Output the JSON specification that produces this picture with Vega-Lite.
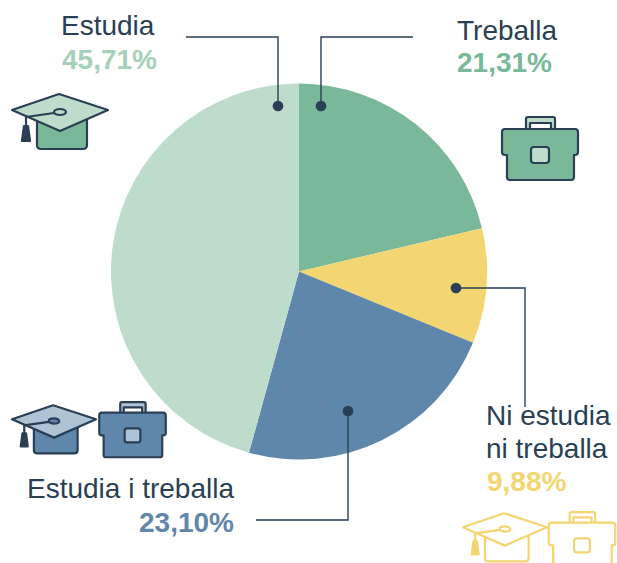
{"$schema":"https://vega.github.io/schema/vega-lite/v6.json","width":617,"height":563,"padding":0,"autosize":{"type":"none"},"background":"#ffffff","view":{"stroke":null},"config":{"legend":{"disable":true},"axis":{"domain":false,"ticks":false,"labels":false,"grid":false,"title":null}},
"datasets":{
"pie":[{"cat":"Treballa","pct":21.31,"ordre":1,"to":"verd"},{"cat":"Ni estudia ni treballa","pct":9.88,"ordre":2,"to":"groc"},{"cat":"Estudia i treballa","pct":23.10,"ordre":3,"to":"blau"},{"cat":"Estudia","pct":45.71,"ordre":4,"to":"verd clar"}],
"linies":[
{"l":"Estudia","o":1,"x":186,"y":37},{"l":"Estudia","o":2,"x":278,"y":37},{"l":"Estudia","o":3,"x":278,"y":106},
{"l":"Treballa","o":1,"x":413,"y":37},{"l":"Treballa","o":2,"x":321,"y":37},{"l":"Treballa","o":3,"x":321,"y":106},
{"l":"Ni","o":1,"x":456,"y":288},{"l":"Ni","o":2,"x":525,"y":288},{"l":"Ni","o":3,"x":525,"y":407},
{"l":"EiT","o":1,"x":348,"y":411},{"l":"EiT","o":2,"x":348,"y":520},{"l":"EiT","o":3,"x":256,"y":520}],
"punts":[{"x":278,"y":106},{"x":321,"y":106},{"x":456,"y":288},{"x":348,"y":411}],
"textos":[
{"t":"Estudia","x":61,"y":35,"to":"fosc","b":"n"},{"t":"45,71%","x":62,"y":69,"to":"verd text","b":"b"},
{"t":"Treballa","x":457,"y":40,"to":"fosc","b":"n"},{"t":"21,31%","x":457,"y":72,"to":"verd","b":"b"},
{"t":"Ni estudia","x":486,"y":425,"to":"fosc","b":"n"},{"t":"ni treballa","x":486,"y":458,"to":"fosc","b":"n"},{"t":"9,88%","x":487,"y":491,"to":"groc","b":"b"},
{"t":"Estudia i treballa","x":27,"y":498,"to":"fosc","b":"n"},{"t":"23,10%","x":139,"y":532,"to":"blau","b":"b"}],
"icones":[
{"g":"Estudia","x":60,"y":112,"p":"cos barret","to":"verd","tr":"fosc"},{"g":"Estudia","x":60,"y":112,"p":"placa","to":"verd clar","tr":"fosc"},{"g":"Estudia","x":60,"y":112,"p":"cordo","to":"verd clar","tr":"fosc"},{"g":"Estudia","x":60,"y":112,"p":"borla","to":"fosc","tr":"fosc"},
{"g":"Treballa","x":540,"y":150,"p":"nansa","to":"verd clar","tr":"fosc"},{"g":"Treballa","x":540,"y":150,"p":"cartera","to":"verd","tr":"fosc"},{"g":"Treballa","x":540,"y":150,"p":"tanca","to":"verd clar","tr":"fosc"},
{"g":"EiT","x":54,"y":421,"p":"cos barret","to":"blau","tr":"fosc"},{"g":"EiT","x":54,"y":421,"p":"placa","to":"blau clar","tr":"fosc"},{"g":"EiT","x":54,"y":421,"p":"cordo","to":"blau","tr":"fosc"},{"g":"EiT","x":54,"y":421,"p":"borla","to":"fosc","tr":"fosc"},
{"g":"EiT","x":132.5,"y":431,"p":"nansa","to":"blau clar","tr":"fosc"},{"g":"EiT","x":132.5,"y":431,"p":"cartera","to":"blau","tr":"fosc"},{"g":"EiT","x":132.5,"y":431,"p":"tanca","to":"blau clar","tr":"fosc"},
{"g":"Ni","x":505,"y":529,"p":"cos barret","to":"blanc","tr":"groc"},{"g":"Ni","x":505,"y":529,"p":"placa","to":"blanc","tr":"groc"},{"g":"Ni","x":505,"y":529,"p":"cordo","to":"blanc","tr":"groc"},{"g":"Ni","x":505,"y":529,"p":"borla","to":"groc","tr":"groc"},
{"g":"Ni","x":582,"y":541,"p":"nansa","to":"blanc","tr":"groc"},{"g":"Ni","x":582,"y":541,"p":"cartera","to":"blanc","tr":"groc"},{"g":"Ni","x":582,"y":541,"p":"tanca","to":"blanc","tr":"groc"}]
},
"encoding":{},
"layer":[
{"data":{"name":"pie"},"mark":{"type":"arc","outerRadius":188},"encoding":{"theta":{"field":"pct","type":"quantitative","stack":true,"scale":{"domain":[0,100],"range":[0,6.28318530718]}},"order":{"field":"ordre","type":"ordinal"},"x":{"datum":299,"type":"quantitative","scale":{"domain":[0,617],"nice":false,"zero":false},"axis":null},"y":{"datum":271.5,"type":"quantitative","scale":{"domain":[563,0],"nice":false,"zero":false},"axis":null},"fill":{"field":"to","type":"nominal","scale":{"name":"tons","domain":["fosc","verd","verd clar","verd text","blau","blau clar","groc","blanc"],"range":["#2a3f54","#7ab89a","#bddccb","#a5d0b9","#5f87ab","#aec3d5","#f3d572","#ffffff"]}}}},
{"data":{"name":"linies"},"mark":{"type":"line","stroke":"#2a3f54","strokeWidth":1.4},"encoding":{"x":{"field":"x","type":"quantitative"},"y":{"field":"y","type":"quantitative"},"detail":{"field":"l"},"order":{"field":"o","type":"ordinal"}}},
{"data":{"name":"punts"},"mark":{"type":"point","filled":true,"fill":"#2a3f54","opacity":1,"size":115},"encoding":{"x":{"field":"x","type":"quantitative"},"y":{"field":"y","type":"quantitative"}}},
{"data":{"name":"icones"},"mark":{"type":"point","filled":true,"opacity":1,"strokeWidth":2.2,"strokeJoin":"round","strokeCap":"round"},"encoding":{"x":{"field":"x","type":"quantitative"},"y":{"field":"y","type":"quantitative"},
"fill":{"field":"to","type":"nominal"},
"stroke":{"field":"tr","type":"nominal","scale":{"domain":["fosc","groc"],"range":["#2a3f54","#f3d572"]}},
"size":{"field":"g","type":"nominal","scale":{"type":"ordinal","domain":["Estudia","Treballa","EiT","Ni"],"range":[4,4,3.0625,3.0625]}},
"shape":{"field":"p","type":"nominal","scale":{"domain":["cos barret","placa","cordo","borla","nansa","cartera","tanca"],"range":[
"M-23,6 L-23,33 Q-23,37 -19,37 L23,37 Q27,37 27,33 L27,6 Z",
"M-48,-2 L-1,-18 L48,-2 L0,19 Z",
"M-34,14 L-34,5 L-6,1 L-34,5 Z M-6,0 A6,3 0 1 1 6,0 A6,3 0 1 1 -6,0 Z",
"M-36,14 L-32,14 L-30,29 L-38,29 Z",
"M-14,-20 L-14,-31 Q-14,-33 -12,-33 L13,-33 Q15,-33 15,-31 L15,-20 L11,-20 L11,-27 L-10,-27 L-10,-20 Z",
"M-35,-21 L35,-21 Q38,-21 38,-18 L38,2 Q38,5 35,5 L34,5 L34,27 Q34,30 31,30 L-30,30 Q-33,30 -33,27 L-33,5 L-35,5 Q-38,5 -38,2 L-38,-18 Q-38,-21 -35,-21 Z",
"M-6,-3 L6,-3 Q9,-3 9,0 L9,10 Q9,13 6,13 L-6,13 Q-9,13 -9,10 L-9,0 Q-9,-3 -6,-3 Z"
]}}}},
{"data":{"name":"textos"},"transform":[{"filter":"datum.b=='n'"}],"mark":{"type":"text","align":"left","baseline":"alphabetic","font":"Liberation Sans","fontSize":28},"encoding":{"x":{"field":"x","type":"quantitative"},"y":{"field":"y","type":"quantitative"},"text":{"field":"t"},"fill":{"field":"to","type":"nominal"}}},
{"data":{"name":"textos"},"transform":[{"filter":"datum.b=='b'"}],"mark":{"type":"text","align":"left","baseline":"alphabetic","font":"Liberation Sans","fontSize":28,"fontWeight":"bold"},"encoding":{"x":{"field":"x","type":"quantitative"},"y":{"field":"y","type":"quantitative"},"text":{"field":"t"},"fill":{"field":"to","type":"nominal"}}}
]}
